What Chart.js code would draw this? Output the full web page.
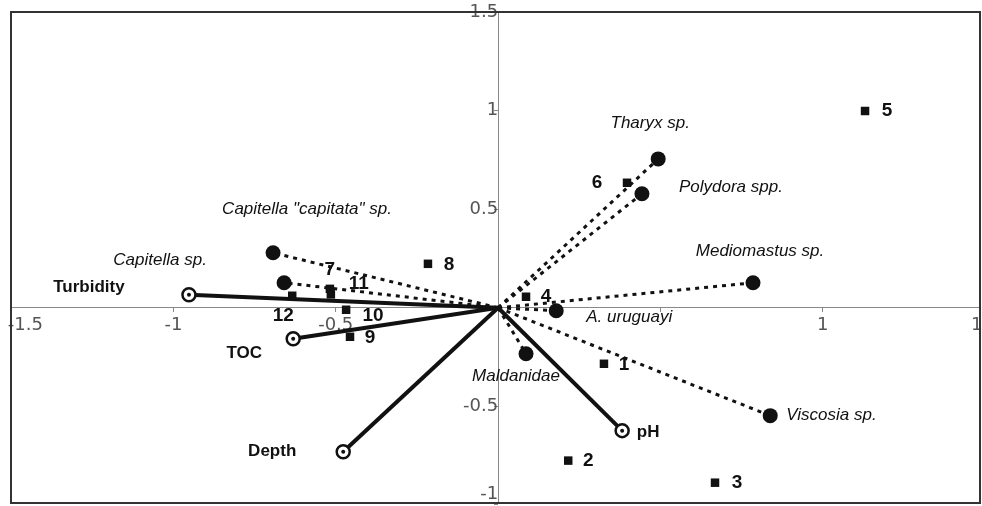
<!DOCTYPE html>
<html>
<head>
<meta charset="utf-8">
<script src="https://cdn.jsdelivr.net/npm/chart.js@4.4.1/dist/chart.umd.min.js"></script>
<style>
  html, body { margin: 0; padding: 0; background: #fff; overflow: hidden; }
  #wrap { width: 982px; height: 506px; position: relative; }
</style>
</head>
<body>
<div id="wrap"><canvas id="biplot"></canvas></div>
<script>
// sampling sites (black squares)
const siteLabels = ['1', '2', '3', '4', '5', '6', '7', '8', '9', '10', '11', '12'];
const siteX = [0.326, 0.216, 0.668, 0.086, 1.130, 0.397, -0.518, -0.216, -0.456, -0.468, -0.515, -0.634];
const siteY = [-0.284, -0.775, -0.887, 0.056, 0.998, 0.634, 0.096, 0.223, -0.147, -0.010, 0.068, 0.061];

// species scores (black dots, dotted line from origin)
const speciesNames = ['Tharyx sp.', 'Polydora spp.', 'Mediomastus sp.', 'A. uruguayi', 'Maldanidae',
  'Viscosia sp.', 'Capitella "capitata" sp.', 'Capitella sp.'];
const speciesX = [0.493, 0.443, 0.785, 0.179, 0.086, 0.838, -0.693, -0.659];
const speciesY = [0.755, 0.578, 0.127, -0.015, -0.233, -0.547, 0.279, 0.127];

// environmental variables (solid vectors, open circles)
const envNames = ['Turbidity', 'TOC', 'Depth', 'pH'];
const envX = [-0.952, -0.631, -0.477, 0.382];
const envY = [0.066, -0.157, -0.730, -0.623];

const xTicks = [-1.5, -1, -0.5, 0, 0.5, 1, 1.5];
const yTicks = [-1, -0.5, 0, 0.5, 1, 1.5];

// label placement, pixels from the mark: [dx, dy, align]
const siteLabelPos = [[20, 1], [20, 0], [22, 0], [20, 0], [22, 0], [-30, 0], [0, -19], [21, 1], [20, 1], [27, 6], [28, -11], [-9, 20]];
const speciesLabelPos = [[-8, -36, 'center'], [37, -7, 'left'], [7, -31, 'center'], [30, 7, 'left'],
  [-10, 23, 'center'], [16, 0, 'left'], [34, -44, 'center'], [-124, -22, 'center']];
const envLabelPos = [[-100, -7], [-49, 15], [-71, 0], [26, 2]];

const INK = '#111';
const origin = { x: 0, y: 0 };

const labelPlugin = {
  id: 'markLabels',
  afterDatasetsDraw(chart) {
    const { ctx, scales: { x, y } } = chart;
    ctx.save();
    ctx.fillStyle = INK;
    ctx.textBaseline = 'middle';
    const put = (text, vx, vy, dx, dy, align) => {
      ctx.textAlign = align || 'center';
      ctx.fillText(text, x.getPixelForValue(vx) + dx, y.getPixelForValue(vy) + dy);
    };
    ctx.font = 'bold 19px "Liberation Sans", Arial, sans-serif';
    siteLabels.forEach((t, i) => put(t, siteX[i], siteY[i], siteLabelPos[i][0], siteLabelPos[i][1]));
    ctx.font = 'italic 17px "Liberation Sans", Arial, sans-serif';
    speciesNames.forEach((t, i) => put(t, speciesX[i], speciesY[i], speciesLabelPos[i][0], speciesLabelPos[i][1], speciesLabelPos[i][2]));
    ctx.font = 'bold 17px "Liberation Sans", Arial, sans-serif';
    envNames.forEach((t, i) => put(t, envX[i], envY[i], envLabelPos[i][0], envLabelPos[i][1]));
    ctx.restore();
  }
};

const framePlugin = {
  id: 'frame',
  afterDraw(chart) {
    const { ctx, chartArea: a } = chart;
    ctx.save();
    ctx.strokeStyle = '#333';
    ctx.lineWidth = 2;
    ctx.strokeRect(a.left, a.top, a.right - a.left, a.bottom - a.top);
    ctx.restore();
  }
};

const siteSet = {
  data: siteX.map((v, i) => ({ x: v, y: siteY[i] })),
  pointStyle: 'rect', pointRadius: 6, pointBackgroundColor: INK, pointBorderWidth: 0
};

const envDotSet = {
  data: envX.map((v, i) => ({ x: v, y: envY[i] })),
  pointRadius: 2, pointBackgroundColor: INK, pointBorderWidth: 0
};

const envSets = envNames.map((name, i) => ({
  label: name,
  data: [origin, { x: envX[i], y: envY[i] }],
  showLine: true, borderColor: INK, borderWidth: 4,
  pointRadius: [0, 6.5], pointBackgroundColor: '#fff', pointBorderColor: INK, pointBorderWidth: 2.5
}));

const speciesSets = speciesNames.map((name, i) => ({
  label: name,
  data: [origin, { x: speciesX[i], y: speciesY[i] }],
  showLine: true, borderColor: INK, borderWidth: 3, borderDash: [4, 5],
  pointRadius: [0, 7.5], pointBackgroundColor: INK, pointBorderWidth: 0
}));

const tickFont = { family: '"DejaVu Sans", Verdana, sans-serif', size: 18 };

new Chart(document.getElementById('biplot'), {
  type: 'scatter',
  data: { datasets: [siteSet, envDotSet, ...envSets, ...speciesSets] },
  options: {
    responsive: true,
    maintainAspectRatio: false,
    animation: false,
    layout: { autoPadding: false, padding: { left: 11, top: 12, right: 2, bottom: 3 } },
    plugins: { legend: { display: false }, tooltip: { enabled: false } },
    scales: {
      x: {
        type: 'linear', min: -1.5, max: 1.484,
        position: { y: 0 },
        afterBuildTicks: s => { s.ticks = xTicks.map(v => ({ value: v })); },
        afterFit: s => { s.paddingLeft = 0; s.paddingRight = 0; },
        grid: { drawOnChartArea: false, drawTicks: true, tickLength: 4, tickColor: '#888' },
        border: { color: '#888', width: 1 },
        ticks: {
          color: '#555', font: tickFont, padding: 3, autoSkip: false, maxRotation: 0,
          callback: v => (v === 0 || v === 0.5) ? '' : (v === -1.5 ? '     -1.5' : String(v))
        }
      },
      y: {
        type: 'linear', min: -0.99, max: 1.5,
        position: { x: 0 },
        afterBuildTicks: s => { s.ticks = yTicks.map(v => ({ value: v })); },
        afterFit: s => { s.paddingTop = 0; s.paddingBottom = 0; },
        grid: { drawOnChartArea: false, drawTicks: true, tickLength: 4, tickColor: '#888' },
        border: { color: '#888', width: 1 },
        ticks: {
          color: '#555', font: tickFont, padding: 5, autoSkip: false,
          callback: v => v === 0 ? '' : (v === -1 ? ['-1', ''] : String(v))
        }
      }
    }
  },
  plugins: [labelPlugin, framePlugin]
});
</script>
</body>
</html>
